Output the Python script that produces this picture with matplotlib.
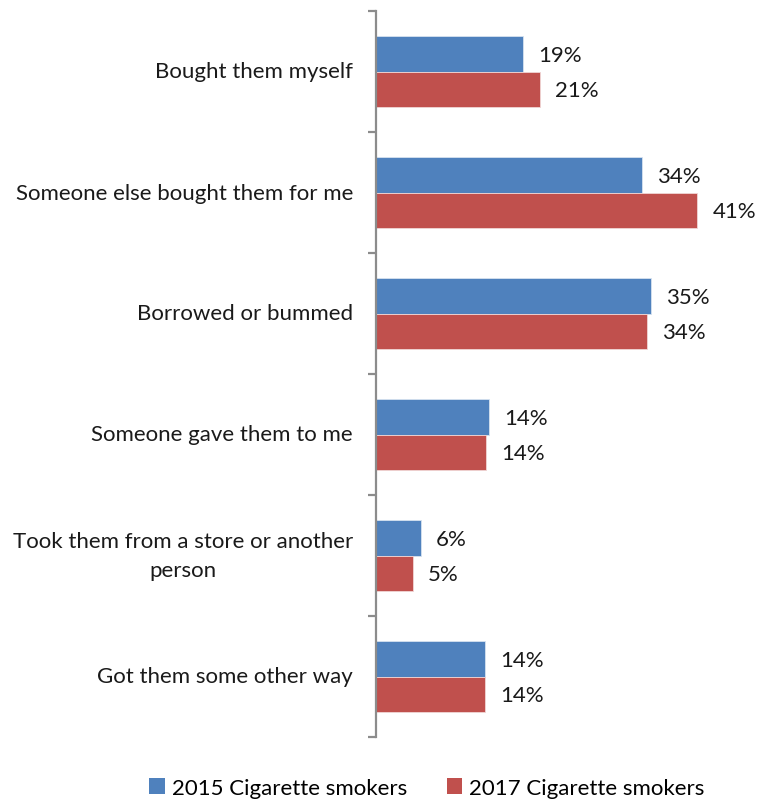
import matplotlib
matplotlib.use("Agg")
import matplotlib.pyplot as plt
import numpy as np
from matplotlib.patches import Patch

plt.rcParams['font.family'] = ['Lato', 'DejaVu Sans']

categories = ["Bought them myself", "Someone else bought them for me", "Borrowed or bummed",
              "Someone gave them to me", "Took them from a store or another\nperson",
              "Got them some other way"]
vals_2015 = [18.8, 34.0, 35.1, 14.4, 5.7, 13.9]
vals_2017 = [20.9, 41.0, 34.6, 14.0, 4.7, 13.9]
labels_2015 = ["19%", "34%", "35%", "14%", "6%", "14%"]
labels_2017 = ["21%", "41%", "34%", "14%", "5%", "14%"]
series_names = ["2015 Cigarette smokers", "2017 Cigarette smokers"]
colors = ["#4F81BD", "#C0504D"]

FS = 16
W, H = 760, 804
fig = plt.figure(figsize=(W/100, H/100), dpi=100)
ax = fig.add_axes([376/W, 1-738/H, (745-376)/W, (738-12)/H])

n = len(categories)
y = np.arange(n)
bh = 0.29
ax.barh(y - bh/2, vals_2015, height=bh, color=colors[0], edgecolor="#D6E2F0", linewidth=0.6)
ax.barh(y + bh/2, vals_2017, height=bh, color=colors[1], edgecolor="#F0D6D6", linewidth=0.6)

for i in range(n):
    ax.annotate(labels_2015[i], (vals_2015[i], y[i] - bh/2), xytext=(11, -1),
                textcoords="offset points", ha="left", va="center", fontsize=FS, color="#1a1a1a")
    ax.annotate(labels_2017[i], (vals_2017[i], y[i] + bh/2), xytext=(11, -1),
                textcoords="offset points", ha="left", va="center", fontsize=FS, color="#1a1a1a")

ax.set_ylim(n - 0.5, -0.5)
ax.set_xlim(0, (745-376)/7.83)

for s in ["top", "right", "bottom"]:
    ax.spines[s].set_visible(False)
ax.spines["left"].set_color("#8C8C8C")
ax.spines["left"].set_linewidth(1.6)
ax.set_xticks([])
ax.set_yticks(np.arange(-0.5, n, 1.0))
ax.set_yticklabels([])
ax.tick_params(axis="y", direction="out", length=6, width=1.6, color="#8C8C8C")
for i, c in enumerate(categories):
    ax.text(-23/7.83, y[i], c, ha="right", va="center", multialignment="center",
            fontsize=FS, color="#1a1a1a", linespacing=1.55)

handles = [Patch(facecolor=colors[0]), Patch(facecolor=colors[1])]
fig.legend(handles, series_names, loc="center", bbox_to_anchor=(427/W, 1-789/H), ncol=2,
           frameon=False, fontsize=FS, handlelength=0.7, handleheight=0.7,
           handletextpad=0.3, columnspacing=1.8)

fig.savefig("out.png", dpi=100)
